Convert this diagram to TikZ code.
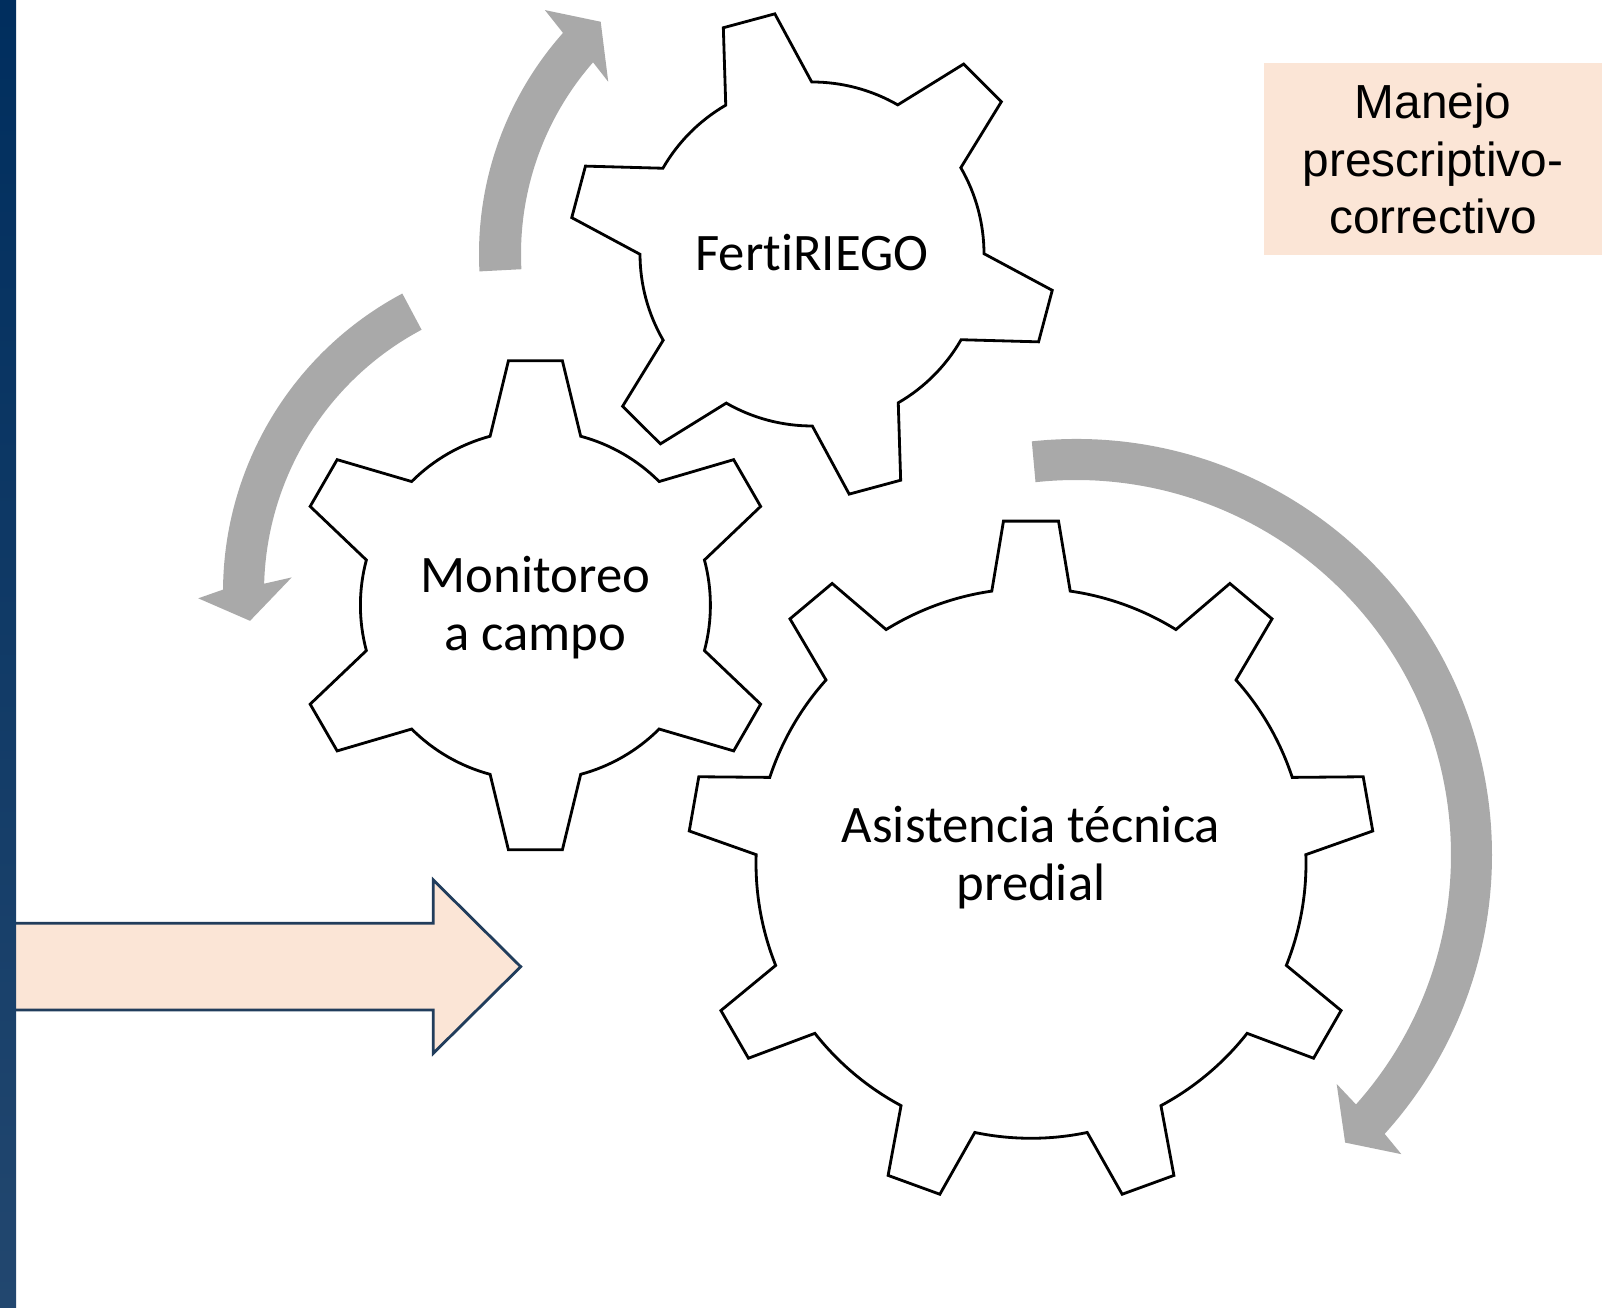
\documentclass[tikz,border=0pt]{standalone}
\usepackage{fontspec}
\setmainfont{Carlito}[Ligatures={CommonOff,ContextualOff}]
\newfontfamily\boxfont{Liberation Sans}
\usepackage{tikz}
\usetikzlibrary{calc}
\usepackage{xcolor}
\definecolor{barTop}{HTML}{002E5E}
\definecolor{barBottom}{HTML}{22476F}
\definecolor{softPeach}{HTML}{FBE5D6}
\definecolor{slateEdge}{HTML}{213D5C}
\definecolor{turnGray}{HTML}{A9A9A9}

% gear outline: centre, teeth, first tooth angle, root r, tip r, half root angle, half tip angle
\newcommand{\drawgear}[7]{%
  \begin{scope}[shift={#1}]
    \pgfmathsetmacro{\gstep}{360/#2}
    \draw[gearline] ({#3+#6}:#4)
      \foreach \k [evaluate=\k as \ga using #3+\k*\gstep] in {1,...,#2} {
        arc[start angle=\ga-\gstep+#6, end angle=\ga-#6, radius=#4]
        -- ({\ga-#7}:#5) -- ({\ga+#7}:#5) -- ({\ga+#6}:#4)
      } -- cycle;
  \end{scope}}

\begin{document}
\begin{tikzpicture}[
  gearline/.style={draw=black,fill=white,line width=0.8pt},
  cogtext/.style={align=center,font=\fontsize{15pt}{16.5pt}\selectfont},
  notebox/.style={fill=softPeach,minimum width=3.38cm,minimum height=1.92cm,align=center,
    font=\boxfont\fontsize{13.6pt}{16.4pt}\selectfont},
  turn/.style={fill=turnGray},
  bigarrow/.style={draw=slateEdge,fill=softPeach,line width=0.8pt,line join=miter}]

  \useasboundingbox[fill=white] (0,0) rectangle (16.02,13.08);

  % rotation arrows
  \begin{scope}[shift={(8.12,10.54)}]
    \fill[turn] (183:3.33) arc[start angle=183, end angle=138.4, radius=3.33]
      -- (137.6:3.617) -- (132.3:3.14) -- (139.8:2.668) -- (138.8:2.91)
      arc[start angle=138.8, end angle=183, radius=2.91] -- cycle;
  \end{scope}
  \begin{scope}[shift={(5.61,7.16)}]
    \fill[turn] (118:3.38) arc[start angle=118, end angle=179.6, radius=3.38]
      -- (181:3.628) -- (185.3:3.123) -- (176.9:2.697) -- (178.4:2.97)
      arc[start angle=178.4, end angle=118, radius=2.97] -- cycle;
  \end{scope}
  \begin{scope}[shift={(10.76,4.53)}]
    \fill[turn] (96.1:4.16) arc[start angle=96.1, end angle=-42.1, radius=4.16]
      -- (-42.6:4.42) -- (-46.9:3.939) -- (-41.3:3.47) -- (-41.7:3.75)
      arc[start angle=-41.7, end angle=96.2, radius=3.75] -- cycle;
  \end{scope}

  % gears
  \drawgear{(8.12,10.54)}{6}{105.1}{1.72}{2.43}{15}{6.3}
  \drawgear{(5.354,7.027)}{6}{30}{1.75}{2.46}{15}{6.3}
  \drawgear{(10.31,4.447)}{9}{10}{2.75}{3.433}{8.2}{4.6}

  \node[cogtext] (fert) at (8.12,10.55) {Fert\kern0pt iRIEGO};
  \node[cogtext] (mon) at (5.354,7.0) {Monitoreo\\a campo};
  \node[cogtext] (asist) at (10.31,4.5) {Asistencia técnica\\predial};

  \node[notebox] (manejo) at (14.33,11.49) {Manejo\\prescriptivo-\\correctivo};

  % entry arrow and side bar
  \draw[bigarrow] (0,3.847) -- (4.333,3.847) -- (4.333,4.28) -- (5.207,3.413)
    -- (4.333,2.547) -- (4.333,2.98) -- (0,2.98) -- cycle;
  \shade[top color=barTop,bottom color=barBottom] (0,0) rectangle (0.16,13.08);
\end{tikzpicture}
\end{document}
